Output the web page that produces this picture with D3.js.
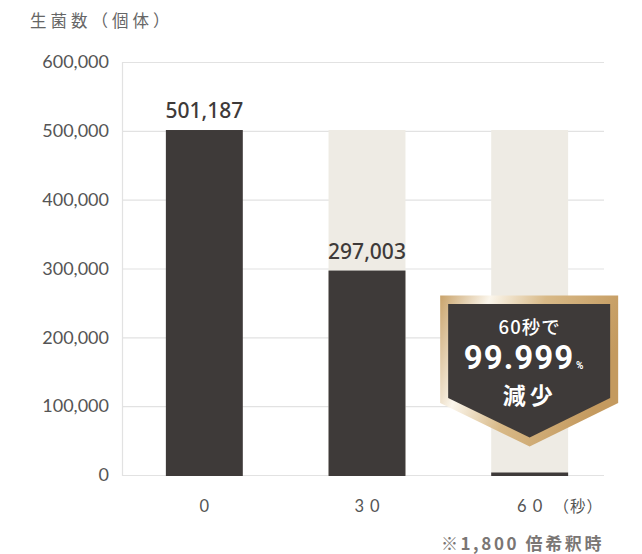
<!DOCTYPE html>
<html><head><meta charset="utf-8">
<script src="https://cdn.jsdelivr.net/npm/d3@7"></script>
<style>
html,body{margin:0;padding:0;background:#fff;}
svg{display:block;}
</style></head>
<body>
<svg id="chart" width="642" height="554"></svg>
<script>
// ---- data ----
const categories = ["0", "30", "60"];
const values = [501187, 297003, 5];
const valueLabels = ["501,187", "297,003", ""];
const trackValue = 501187;
const yTicks = [0, 100000, 200000, 300000, 400000, 500000, 600000];
const yTickLabels = ["0", "100,000", "200,000", "300,000", "400,000", "500,000", "600,000"];
const xTickLabels = ["0", "30", "60"];
const yTitle = "生菌数（個体）";
const xUnit = "（秒）";
const footnote = "※1,800 倍希釈時";
const badgeLines = ["60秒で", "99.999", "%", "減少"];

// ---- layout ----
const svg = d3.select("#chart");
const pLeft = 122, pRight = 604, pTop = 62, pBottom = 475;
const x = d3.scaleBand().domain(categories).range([123, 611]).paddingInner(0.527).paddingOuter(0.2635);
const y = d3.scaleLinear().domain([0, 600000]).range([pBottom, pTop]);

const jp = "'Noto Sans CJK JP','Noto Sans',sans-serif";
const num = "Lato,'Noto Sans',sans-serif";
const dark = "#3e3a39";

// gridlines
svg.append("g").selectAll("line").data(yTicks).join("line")
  .attr("x1", pLeft).attr("x2", pRight)
  .attr("y1", d => y(d) + 0.5).attr("y2", d => y(d) + 0.5)
  .attr("stroke", "#e2e2e2").attr("stroke-width", 1.2);
svg.append("line").attr("x1", pLeft + 0.5).attr("x2", pLeft + 0.5)
  .attr("y1", y(600000)).attr("y2", y(0) + 1)
  .attr("stroke", "#e2e2e2").attr("stroke-width", 1.2);

// y axis labels
const yAxis = svg.append("g").attr("transform", `translate(${pLeft},0)`)
  .call(d3.axisLeft(y).tickValues(yTicks).tickSize(0).tickPadding(13)
    .tickFormat((d, i) => yTickLabels[i]));
yAxis.select(".domain").remove();
yAxis.selectAll("text").attr("font-family", num).attr("font-size", 18)
  .attr("fill", "#555").attr("font-weight", 400);

// track bars
svg.append("g").selectAll("rect").data(categories.slice(1)).join("rect")
  .attr("x", d => x(d)).attr("width", x.bandwidth())
  .attr("y", y(trackValue)).attr("height", y(0) - y(trackValue) + 1)
  .attr("fill", "#eeebe4");

// value bars
svg.append("g").selectAll("rect").data(values).join("rect")
  .attr("x", (d, i) => x(categories[i])).attr("width", x.bandwidth())
  .attr("y", d => Math.min(y(d), y(0) - 2.5))
  .attr("height", d => Math.max(y(0) - y(d), 2.5) + 1)
  .attr("fill", dark);

// value labels
svg.append("g").selectAll("text").data(values).join("text")
  .attr("x", (d, i) => x(categories[i]) + x.bandwidth() / 2)
  .attr("y", d => y(d) - 12)
  .attr("text-anchor", "middle")
  .attr("font-family", "'Noto Sans',sans-serif").attr("font-size", 21)
  .attr("font-weight", 500).attr("fill", dark)
  .text((d, i) => valueLabels[i]);

// x labels
svg.append("g").selectAll("text").data(xTickLabels).join("text")
  .attr("x", (d, i) => x(categories[i]) + x.bandwidth() / 2 + 3)
  .attr("y", 512)
  .attr("text-anchor", "middle")
  .attr("font-family", num).attr("font-size", 16.5).attr("fill", "#555")
  .attr("letter-spacing", 6)
  .text(d => d);
svg.append("text").attr("x", 603).attr("y", 512).attr("text-anchor", "end")
  .attr("font-family", jp).attr("font-size", 15.5).attr("fill", "#555")
  .attr("letter-spacing", 1)
  .text(xUnit);

// title
svg.append("text").attr("x", 30).attr("y", 27)
  .attr("font-family", jp).attr("font-size", 16.5).attr("fill", "#666")
  .attr("letter-spacing", 4)
  .text(yTitle);

// footnote
svg.append("text").attr("x", 604).attr("y", 550).attr("text-anchor", "end")
  .attr("font-family", jp).attr("font-size", 17).attr("font-weight", 700)
  .attr("fill", "#7a7674").attr("letter-spacing", 2.6)
  .text(footnote);

// ---- badge ----
const cx = x("60") + x.bandwidth() / 2;
const defs = svg.append("defs");
const grad = defs.append("linearGradient").attr("id", "gold")
  .attr("x1", "0%").attr("y1", "0%").attr("x2", "100%").attr("y2", "30%");
grad.append("stop").attr("offset", "0%").attr("stop-color", "#c9a36b");
grad.append("stop").attr("offset", "26%").attr("stop-color", "#fbf6ec");
grad.append("stop").attr("offset", "55%").attr("stop-color", "#d8b987");
grad.append("stop").attr("offset", "100%").attr("stop-color", "#c49a5f");

const b = svg.append("g");
function shield(l, r, t, s, p) {
  return `M${l},${t}L${r},${t}L${r},${s}L${cx},${p}L${l},${s}Z`;
}
b.append("path").attr("d", shield(cx - 89.5, cx + 88.5, 295.5, 403, 446.5)).attr("fill", "url(#gold)");
b.append("path").attr("d", shield(cx - 81.5, cx + 80.5, 304, 398, 437.5)).attr("fill", "#3e3a39");

b.append("text").attr("x", cx).attr("y", 334).attr("text-anchor", "middle")
  .attr("font-family", jp).attr("font-size", 18.5).attr("font-weight", 500)
  .attr("fill", "#fff").attr("letter-spacing", 1)
  .text(badgeLines[0]);
const big = b.append("text").attr("x", cx - 6).attr("y", 368.5).attr("text-anchor", "middle")
  .attr("font-family", "Roboto,'Noto Sans',sans-serif").attr("font-weight", 700).attr("fill", "#fff");
big.append("tspan").attr("font-size", 33).attr("letter-spacing", 1).text(badgeLines[1]);
big.append("tspan").attr("font-size", 10).attr("dx", 2).text(badgeLines[2]);
b.append("text").attr("x", cx).attr("y", 404).attr("text-anchor", "middle")
  .attr("font-family", jp).attr("font-size", 23).attr("font-weight", 700)
  .attr("fill", "#fff").attr("letter-spacing", 4)
  .text(badgeLines[3]);
</script>
</body></html>
